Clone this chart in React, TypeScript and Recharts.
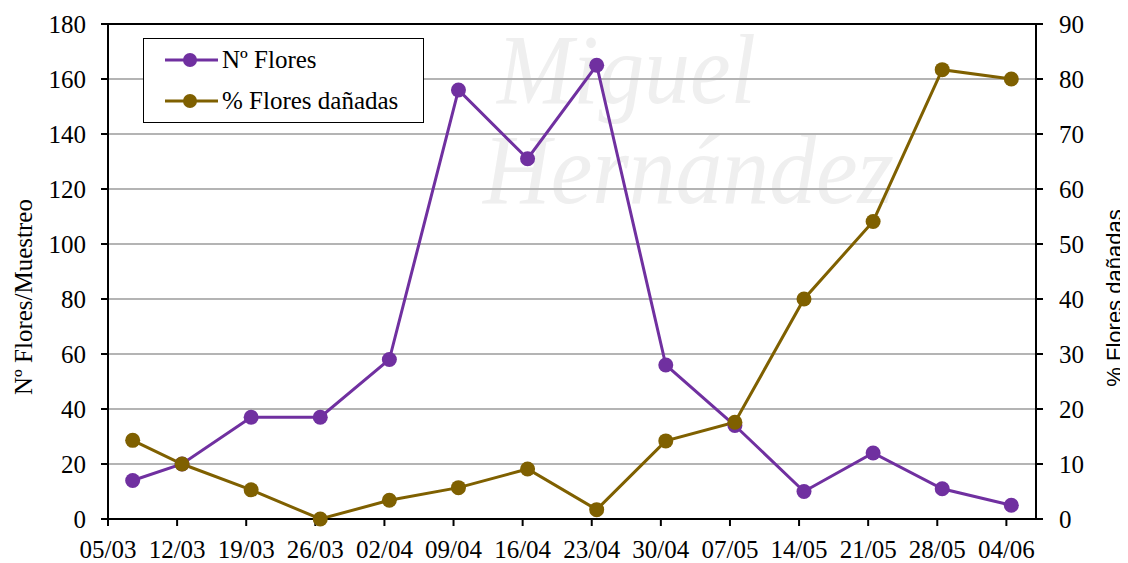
import React from "react";
import {
  LineChart,
  Line,
  XAxis,
  YAxis,
  CartesianGrid,
  Legend,
  ReferenceLine,
} from "recharts";

// sampling dates (dd/mm) and the two measured series
const sampleDates = [
  "07/03", "12/03", "19/03", "26/03", "02/04", "09/04", "16/04",
  "23/04", "30/04", "07/05", "14/05", "21/05", "28/05", "04/06",
];
const nFlores = [14, 20, 37, 37, 58, 156, 131, 165, 56, 34, 10, 24, 11, 5];
const pctDanadas = [14.3, 10, 5.3, 0, 3.4, 5.7, 9.1, 1.7, 14.2, 17.6, 40, 54.1, 81.7, 80];

// weekly tick labels on the date axis
const tickDates = [
  "05/03", "12/03", "19/03", "26/03", "02/04", "09/04", "16/04",
  "23/04", "30/04", "07/05", "14/05", "21/05", "28/05", "04/06",
];
const leftTicks = [0, 20, 40, 60, 80, 100, 120, 140, 160, 180];
const rightTicks = [0, 10, 20, 30, 40, 50, 60, 70, 80, 90];

const PURPLE = "#7030a0";
const BROWN = "#7f6000";
const SERIF = "'Liberation Serif', 'Times New Roman', serif";
const SANS = "'Liberation Sans', Arial, sans-serif";

// days since 05/03
const dayOf = (s: string) => {
  const [d, m] = s.split("/").map(Number);
  return (Date.UTC(2000, m - 1, d) - Date.UTC(2000, 2, 5)) / 86400000;
};

// samples are plotted at midday of the sampling date
const data = sampleDates.map((s, i) => ({
  day: dayOf(s) + 0.5,
  flores: nFlores[i],
  danadas: pctDanadas[i],
}));

const xTicks = tickDates.map(dayOf);
const xLabel = (v: number) => tickDates[xTicks.indexOf(v)] ?? "";

const tickStyle = { fill: "#000", fontSize: 25, fontFamily: SERIF };

// rotated axis title, sitting a little below the plot's middle
const axisTitle =
  (text: string, x: number, y: number, family: string, size: number) =>
  () => (
    <text
      x={x}
      y={y}
      transform={`rotate(-90, ${x}, ${y})`}
      textAnchor="middle"
      dominantBaseline="central"
      fill="#000"
      fontSize={size}
      fontFamily={family}
    >
      {text}
    </text>
  );

const legendItems = [
  { label: "Nº Flores", color: PURPLE },
  { label: "% Flores dañadas", color: BROWN },
];

function LegendBox() {
  return (
    <div
      style={{
        width: 281,
        height: 85,
        border: "1.5px solid #000",
        background: "#fff",
        boxSizing: "border-box",
        fontFamily: SERIF,
        fontSize: 25,
        color: "#000",
      }}
    >
      {legendItems.map((it) => (
        <div key={it.label} style={{ display: "flex", alignItems: "center", height: 41 }}>
          <svg width={78} height={20} style={{ flex: "none" }}>
            <line x1={21} y1={10} x2={74} y2={10} stroke={it.color} strokeWidth={3} />
            <circle cx={46} cy={10} r={7} fill={it.color} />
          </svg>
          <span style={{ whiteSpace: "nowrap", lineHeight: "41px" }}>{it.label}</span>
        </div>
      ))}
    </div>
  );
}

function Watermark() {
  return (
    <svg
      width={1120}
      height={555}
      style={{ position: "absolute", left: 0, top: 0 }}
    >
      <g fill="#efefef" fontFamily={SERIF} fontStyle="italic">
        <text x={489} y={95} fontSize={100} textLength={259} lengthAdjust="spacingAndGlyphs">
          Miguel
        </text>
        <text x={475} y={195} fontSize={100} textLength={411} lengthAdjust="spacingAndGlyphs">
          Hernández
        </text>
      </g>
    </svg>
  );
}

export default function App() {
  return (
    <div style={{ position: "relative", width: 1120, height: 555 }}>
      <Watermark />
      <div style={{ position: "absolute", left: 0, top: 0 }}>
        <LineChart
          width={1120}
          height={555}
          data={data}
          margin={{ top: 16, right: 0, bottom: 0, left: 0 }}
        >
          <CartesianGrid
            yAxisId="left"
            vertical={false}
            stroke="#b4b4b4"
            strokeWidth={2}
          />
          <XAxis
            dataKey="day"
            type="number"
            domain={[0, 94]}
            ticks={xTicks}
            tickFormatter={xLabel}
            interval={0}
            height={44}
            axisLine={{ stroke: "#000", strokeWidth: 2 }}
            tickLine={{ stroke: "#000", strokeWidth: 2 }}
            tickSize={7}
            tickMargin={14}
            tick={tickStyle}
          />
          <YAxis
            yAxisId="left"
            domain={[0, 180]}
            ticks={leftTicks}
            interval={0}
            width={100}
            axisLine={{ stroke: "#000", strokeWidth: 2 }}
            tickLine={{ stroke: "#000", strokeWidth: 2 }}
            tickSize={7}
            tickMargin={15}
            tick={tickStyle}
            label={axisTitle("Nº Flores/Muestreo", 15, 289, SERIF, 25)}
          />
          <YAxis
            yAxisId="right"
            orientation="right"
            domain={[0, 90]}
            ticks={rightTicks}
            interval={0}
            width={92}
            axisLine={{ stroke: "#000", strokeWidth: 2 }}
            tickLine={{ stroke: "#000", strokeWidth: 2 }}
            tickSize={7}
            tickMargin={16}
            tick={tickStyle}
            label={axisTitle("% Flores dañadas", 1106, 290, SANS, 22)}
          />
          <ReferenceLine yAxisId="left" y={180} stroke="#000" strokeWidth={2} />
          <Line
            yAxisId="left"
            dataKey="flores"
            name="Nº Flores"
            type="linear"
            stroke={PURPLE}
            strokeWidth={3}
            dot={{ r: 7.5, fill: PURPLE, stroke: PURPLE, strokeWidth: 0 }}
            isAnimationActive={false}
          />
          <Line
            yAxisId="right"
            dataKey="danadas"
            name="% Flores dañadas"
            type="linear"
            stroke={BROWN}
            strokeWidth={3}
            dot={{ r: 7.5, fill: BROWN, stroke: BROWN, strokeWidth: 0 }}
            isAnimationActive={false}
          />
          <Legend
            content={() => <LegendBox />}
            layout="horizontal"
            verticalAlign="middle"
            wrapperStyle={{ position: "absolute", left: 135, top: 30, width: 281, height: 85 }}
          />
        </LineChart>
      </div>
    </div>
  );
}
